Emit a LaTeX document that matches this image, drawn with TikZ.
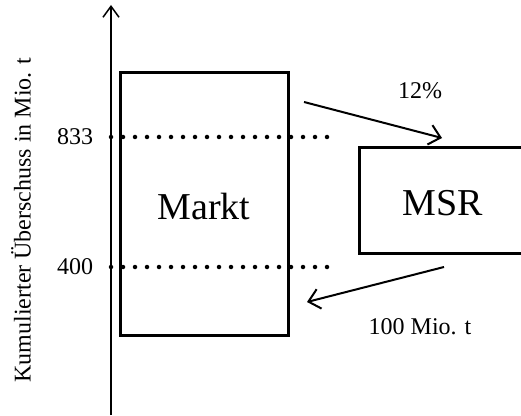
\documentclass[tikz,border=0pt]{standalone}
\usepackage{fontspec}
\setmainfont{Liberation Serif}
\usetikzlibrary{arrows.meta}
\begin{document}
\begin{tikzpicture}[
    x=1pt, y=1pt,
    box/.style={rectangle, draw, line width=3pt, inner sep=0pt, font=\fontsize{38}{40}\selectfont},
    lbl/.style={inner sep=0pt, font=\fontsize{24}{26}\selectfont},
    level/.style={line width=4.5pt, line cap=round, dash pattern=on 0pt off 12pt},
    flow/.style={line width=2pt, -{Straight Barb[length=11pt, width=20pt, line width=2pt]}},
]
\useasboundingbox (0,0) rectangle (521,415);
\clip (0,0) rectangle (521,415);

% Axis (left)
\coordinate (ybot) at (111,0);
\coordinate (ytop) at (111,410);
\draw[line width=1.5pt, -{Straight Barb[length=11pt, width=16pt, line width=1.5pt]}] (ybot) -- (ytop);
\node[lbl, rotate=90] (ylab) at (21,195) {Kumulierter Überschuss in Mio. t};
\node[lbl] (t833) at (75,278) {833};
\node[lbl] (t400) at (75,148) {400};

% Boxes
\node[box, minimum width=168pt, minimum height=262pt] (markt) at (204,211) {\raisebox{-3pt}[\height][\depth]{Markt}};
\node[box, minimum width=168pt, minimum height=105pt] (msr) at (443,214.5) {\raisebox{-3pt}[\height][\depth]{MSR}};

% Dotted levels
\coordinate (l833a) at (111,278);
\coordinate (l833b) at (330,278);
\coordinate (l400a) at (111,148);
\coordinate (l400b) at (330,148);
\draw[level] (l833a) -- (l833b);
\draw[level] (l400a) -- (l400b);

% Flows
\coordinate (in1) at (304,313);
\coordinate (out1) at (442,277);
\coordinate (in2) at (444,148);
\coordinate (out2) at (307,113);
\draw[flow] (in1) -- (out1);
\draw[flow] (in2) -- (out2);
\node[lbl] (pct) at (420,324) {12\%};
\node[lbl] (amt) at (420,88) {100 Mio. t};

\end{tikzpicture}
\end{document}
